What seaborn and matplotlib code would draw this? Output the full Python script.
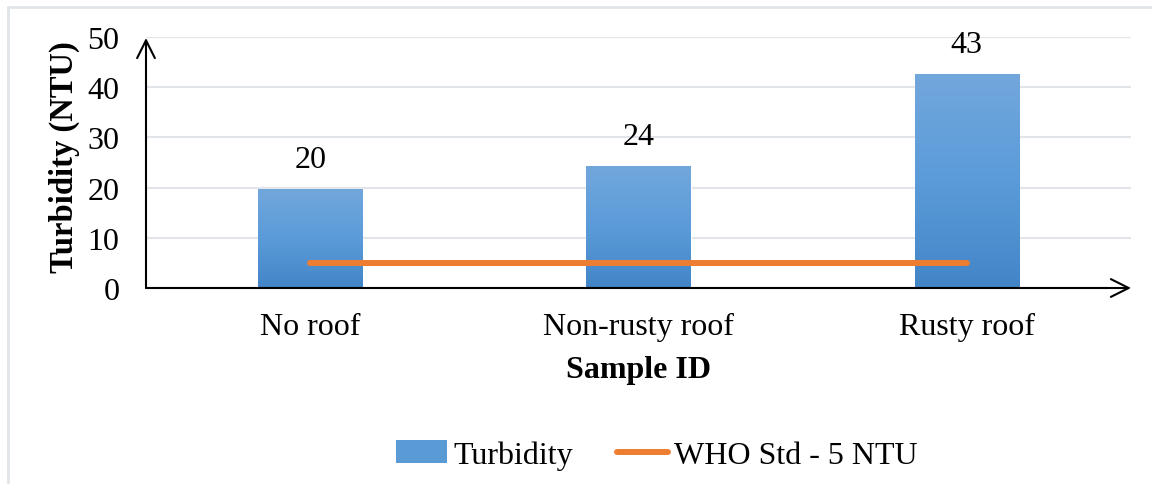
import numpy as np
import pandas as pd
import matplotlib
matplotlib.use('Agg')
import matplotlib.pyplot as plt
import seaborn as sns
from matplotlib.colors import LinearSegmentedColormap
from matplotlib.lines import Line2D
from matplotlib.patches import Patch

# data
samples = ['No roof', 'Non-rusty roof', 'Rusty roof']
turbidity = [19.8, 24.3, 42.7]
bar_labels = ['20', '24', '43']
who_std = [5, 5, 5]

df = pd.DataFrame({'Sample ID': samples, 'Turbidity': turbidity, 'WHO': who_std})

sns.set_style('white')
plt.rcParams['font.family'] = ['Liberation Serif', 'DejaVu Serif']
plt.rcParams['text.color'] = 'black'
plt.rcParams['axes.labelcolor'] = 'black'
plt.rcParams['xtick.color'] = 'black'
plt.rcParams['ytick.color'] = 'black'

fs = 23

fig = plt.figure(figsize=(11.52, 4.85), dpi=100)
ax = fig.add_axes([146 / 1152, 1 - 289 / 485, (1131 - 146) / 1152, (289 - 38) / 485])

sns.barplot(data=df, x='Sample ID', y='Turbidity', color='#5B9BD5', width=0.317,
            saturation=1, ax=ax, zorder=2)

# gradient fill on bars (light top, darker bottom)
cmap = LinearSegmentedColormap.from_list('grad', ['#4285C7', '#5B9BD9', '#72A7DC'])
grad = np.linspace(0, 1, 256).reshape(-1, 1)
for p in ax.patches:
    x0, y0 = p.get_x(), p.get_y()
    w, h = p.get_width(), p.get_height()
    im = ax.imshow(grad, cmap=cmap, origin='lower', aspect='auto',
                   extent=[x0, x0 + w, y0, y0 + h], zorder=2.5)
    im.set_clip_path(p)

sns.lineplot(data=df, x='Sample ID', y='WHO', color='#ED7D31', lw=4.3,
             solid_capstyle='round', ax=ax, zorder=3, sort=False)

for i, (v, lab) in enumerate(zip(turbidity, bar_labels)):
    ax.text(i, v + 3.0, lab, ha='center', va='bottom', fontsize=fs)

ax.set_xlim(-0.5, 2.5)
ax.set_ylim(0, 50)
ax.set_yticks(range(0, 51, 10))
ax.yaxis.grid(True, color='#E1E4E8', lw=1.5, zorder=0)
ax.set_axisbelow(True)
for s in ax.spines.values():
    s.set_visible(False)
ax.tick_params(axis='both', length=0, labelsize=fs)
ax.tick_params(axis='y', pad=19)
ax.tick_params(axis='x', pad=17)

ax.set_xlabel('Sample ID', fontsize=fs, fontweight='bold', labelpad=10)
ax.set_ylabel('Turbidity (NTU)', fontsize=23.5, fontweight='bold')
ax.yaxis.set_label_coords(-0.067, 0.524)

# axis arrows
arrow = dict(arrowstyle='->', lw=1.5, color='black', mutation_scale=32, shrinkA=0, shrinkB=0)
ax.annotate('', xy=(1, 0), xytext=(0, 0), xycoords='axes fraction', arrowprops=arrow, zorder=5)
ax.annotate('', xy=(0, 0.996), xytext=(0, 0), xycoords='axes fraction', arrowprops=arrow, zorder=5)

handles = [Patch(facecolor='#5B9BD5', edgecolor='none'),
           Line2D([0], [0], color='#ED7D31', lw=4.3, solid_capstyle='round')]
fig.legend(handles, ['Turbidity', 'WHO Std - 5 NTU'], loc='center',
           bbox_to_anchor=(657 / 1152, 1 - 456 / 485), ncol=2, frameon=False,
           fontsize=fs, handlelength=1.6, handletextpad=0.2, columnspacing=1.36)

# chart frame (light border)
fig.add_artist(Line2D([7.5 / 1152, 7.5 / 1152], [0, 1 - 7.5 / 485], color='#E1E5EA', lw=2,
                      transform=fig.transFigure))
fig.add_artist(Line2D([7.5 / 1152, 1], [1 - 7.5 / 485, 1 - 7.5 / 485], color='#E1E5EA', lw=2,
                      transform=fig.transFigure))

fig.savefig('out.png', dpi=100)
